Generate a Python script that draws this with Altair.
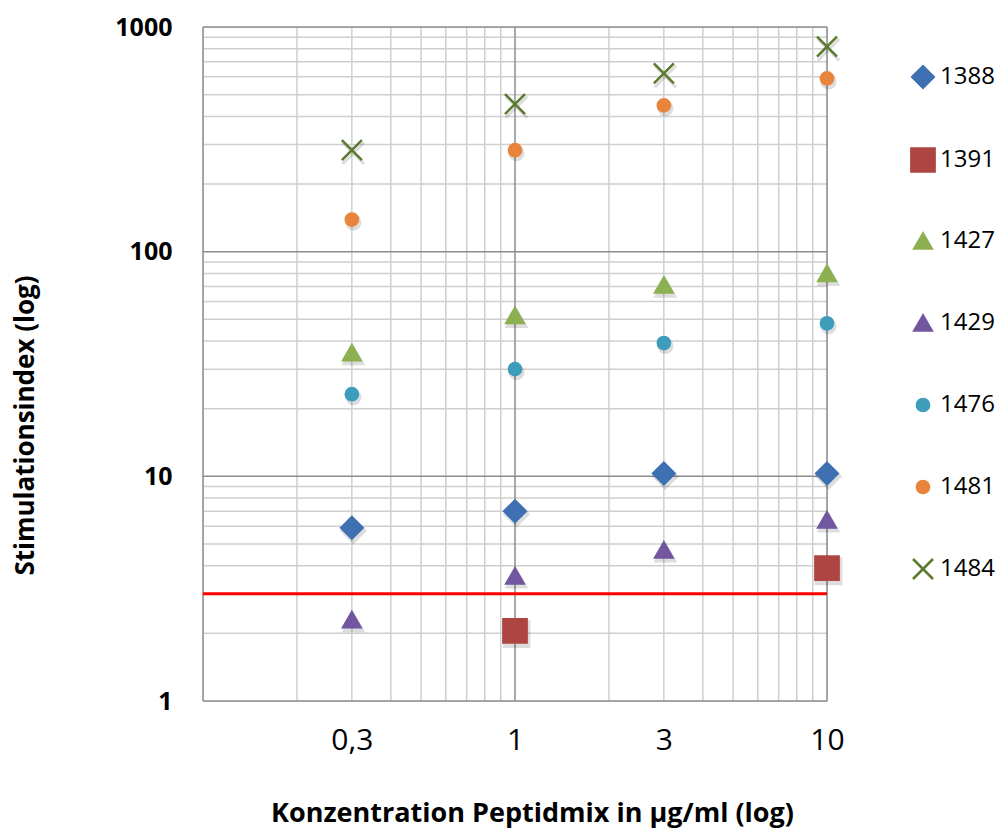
import altair as alt
import pandas as pd

# ---- data ----
concentrations = [0.3, 1, 3, 10]
series_names = ["1388", "1391", "1427", "1429", "1476", "1481", "1484"]
si_1388 = [5.9, 7.0, 10.3, 10.3]
si_1391 = [None, 2.05, None, 3.9]
si_1427 = [35.5, 52, 71, 80]
si_1429 = [2.3, 3.6, 4.7, 6.4]
si_1476 = [23.2, 30, 39.2, 48]
si_1481 = [139, 283, 448, 590]
si_1484 = [283, 454, 621, 817]
threshold = [3]

x_ticks = [0.3, 1, 3, 10]
y_ticks = [1, 10, 100, 1000]
x_major = [0.1, 1, 10]
x_minor = [0.2, 0.3, 0.4, 0.5, 0.6, 0.7, 0.8, 0.9, 2, 3, 4, 5, 6, 7, 8, 9]
y_major = [1, 10, 100, 1000]
y_minor = [2, 3, 4, 5, 6, 7, 8, 9, 20, 30, 40, 50, 60, 70, 80, 90,
           200, 300, 400, 500, 600, 700, 800, 900]

colors = ["#3E70B2", "#AE4542", "#8CB052", "#7256A0", "#3D9DBA", "#E8843C", "#5A7A2E"]
shapes = ["diamond", "square", "triangle-up", "triangle-up", "circle", "circle",
          "M-1,-1L1,1M-1,1L1,-1"]
sizes = [460, 540, 300, 300, 150, 150, 400]

all_series = [si_1388, si_1391, si_1427, si_1429, si_1476, si_1481, si_1484]
rows = []
for name, vals in zip(series_names, all_series):
    for c, v in zip(concentrations, vals):
        if v is not None:
            rows.append({"x": c, "y": v, "serie": name, "serie_size": name})
df = pd.DataFrame(rows)

xscale = alt.Scale(type="log", domain=[0.1, 10], nice=False)
yscale = alt.Scale(type="log", domain=[1, 1000], nice=False)

xaxis = alt.Axis(
    values=x_ticks, grid=False, ticks=False, domain=False,
    labelExpr="replace(toString(datum.value), '.', ',')",
    labelFont="Open Sans", labelFontSize=30, labelColor="#000000", labelPadding=24,
    labelFlush=False, labelOverlap=False,
    title="Konzentration Peptidmix in µg/ml (log)",
    titleFont="Open Sans", titleFontSize=27, titleFontWeight="bold", titleColor="#000000",
    titleX=329, titleY=112, titleBaseline="middle", titleAlign="center",
)
yaxis = alt.Axis(
    values=y_ticks, grid=False, ticks=False, domain=False, format="d",
    labelFont="Open Sans", labelFontSize=25, labelFontWeight="bold", labelColor="#000000",
    labelPadding=31, labelOverlap=False, labelFlush=False,
    title="Stimulationsindex (log)",
    titleFont="Open Sans", titleFontSize=26, titleFontWeight="bold", titleColor="#000000",
    titleX=-178, titleY=398, titleBaseline="middle", titleAlign="center", titleAngle=-90,
)

x_enc = alt.X("x:Q", scale=xscale, axis=xaxis)
y_enc = alt.Y("y:Q", scale=yscale, axis=yaxis)

vminor = alt.Chart(pd.DataFrame({"x": x_minor})).mark_rule(
    color="#CFCFCF", strokeWidth=1.5).encode(x=x_enc)
hminor = alt.Chart(pd.DataFrame({"y": y_minor})).mark_rule(
    color="#CFCFCF", strokeWidth=1.5).encode(y=y_enc)
vmajor = alt.Chart(pd.DataFrame({"x": x_major})).mark_rule(
    color="#8C8C8C", strokeWidth=1.5).encode(x=x_enc)
hmajor = alt.Chart(pd.DataFrame({"y": y_major})).mark_rule(
    color="#8C8C8C", strokeWidth=1.5).encode(y=y_enc)
red = alt.Chart(pd.DataFrame({"y": threshold})).mark_rule(
    color="#FF0000", strokeWidth=3).encode(y=y_enc)

# soft drop shadows below the markers
shadow_layers = []
for name, shp, sz in zip(series_names, shapes, sizes):
    sub = df[df["serie"] == name]
    shadow_layers.append(
        alt.Chart(sub).mark_point(
            filled=True, shape=shp, size=sz * 1.15, color="#000000", stroke="#000000",
            strokeWidth=3, opacity=0.13, xOffset=1.5, yOffset=3,
        ).encode(x=x_enc, y=y_enc)
    )

legend = alt.Legend(
    orient="none", legendX=707, legendY=38, title=None,
    labelFont="Open Sans", labelFontSize=24, labelColor="#000000",
    symbolSize=260, symbolStrokeWidth=2.5, rowPadding=48, labelOffset=4,
    gridAlign="all",
)
dom = series_names
points = alt.Chart(df).mark_point(filled=True, strokeWidth=2.5, opacity=1).encode(
    x=x_enc, y=y_enc,
    color=alt.Color("serie:N", scale=alt.Scale(domain=dom, range=colors), legend=legend),
    stroke=alt.Stroke("serie:N", scale=alt.Scale(domain=dom, range=colors), legend=legend),
    shape=alt.Shape("serie:N", scale=alt.Scale(domain=dom, range=shapes), legend=legend),
    size=alt.Size("serie_size:N", scale=alt.Scale(type="ordinal", domain=dom, range=sizes),
                  legend=None),
)

chart = alt.layer(vminor, hminor, vmajor, hmajor, red, *shadow_layers, points).properties(
    width=624, height=674,
    autosize=alt.AutoSizeParams(type="none"),
    padding={"left": 203, "top": 27, "right": 179, "bottom": 131},
).configure_view(stroke=None).configure(background="#FFFFFF")

chart.save("out.html", embed_options={"renderer": "svg", "actions": False})
